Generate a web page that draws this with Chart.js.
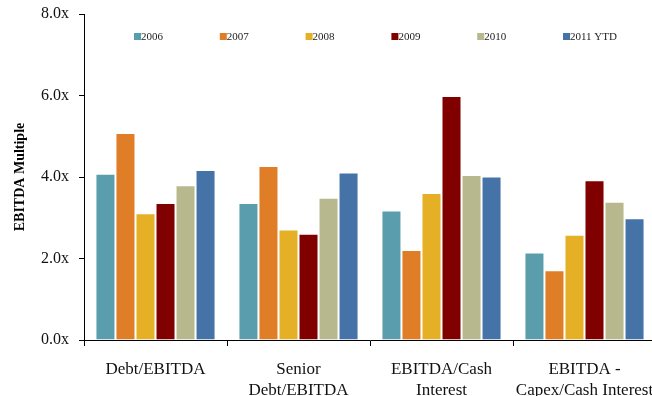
<!DOCTYPE html>
<html>
<head>
<meta charset="utf-8">
<script src="https://cdn.jsdelivr.net/npm/chart.js@4"></script>
<style>
  html, body { margin: 0; padding: 0; background: #fff; overflow: hidden; }
  #wrap { width: 680px; height: 396px; }
</style>
</head>
<body>
<div id="wrap"><canvas id="grafic"></canvas></div>
<script>
const categories = [
  'Debt/EBITDA',
  ['Senior', 'Debt/EBITDA'],
  ['EBITDA/Cash', 'Interest'],
  ['EBITDA -', 'Capex/Cash Interest']
];
const years = ['2006', '2007', '2008', '2009', '2010', '2011 YTD'];
const colors = ['#5A9EAD', '#E07E28', '#E5B025', '#800000', '#B8B88E', '#4673A7'];

const v2006 = [4.08, 3.36, 3.18, 2.15];
const v2007 = [5.08, 4.27, 2.21, 1.71];
const v2008 = [3.11, 2.71, 3.61, 2.58];
const v2009 = [3.36, 2.61, 5.99, 3.92];
const v2010 = [3.80, 3.49, 4.05, 3.39];
const v2011 = [4.17, 4.11, 4.01, 2.99];
const yTicks = [0, 2, 4, 6, 8];

const series = [v2006, v2007, v2008, v2009, v2010, v2011];

const ctx = document.getElementById('grafic');

// legend drawn inside the plot area, one row
const innerLegend = {
  id: 'innerLegend',
  afterDatasetsDraw(chart) {
    const c = chart.ctx;
    const area = chart.chartArea;
    c.save();
    c.font = '11px "Liberation Serif"';
    c.textBaseline = 'middle';
    c.textAlign = 'left';
    years.forEach((y, i) => {
      const x = area.left + 50 + i * 85.8;
      const yy = area.top + 23;
      c.fillStyle = colors[i];
      c.fillRect(x, yy - 4, 7, 7);
      c.fillStyle = '#222';
      c.fillText(y, x + 7, yy);
    });
    c.restore();
  }
};

new Chart(ctx, {
  type: 'bar',
  data: {
    labels: categories,
    datasets: series.map((d, i) => ({
      label: years[i],
      data: d,
      backgroundColor: colors[i],
      borderColor: 'rgba(255,255,255,0.5)',
      borderWidth: 1,
      categoryPercentage: 0.84,
      barPercentage: 1.0
    }))
  },
  options: {
    responsive: true,
    maintainAspectRatio: false,
    animation: false,
    layout: { padding: { top: 14, right: 24, left: 0, bottom: 0 } },
    plugins: {
      legend: { display: false },
      tooltip: { enabled: false }
    },
    scales: {
      x: {
        afterFit: (s) => { s.height = 56; },
        border: { display: true, color: '#000', width: 1 },
        grid: { offset: true, drawOnChartArea: false, drawTicks: true, tickLength: 6, color: '#000' },
        ticks: {
          color: '#111',
          font: { family: 'Liberation Serif', size: 17, lineHeight: 1.25 },
          padding: 13,
          maxRotation: 0,
          autoSkip: false
        }
      },
      y: {
        min: 0,
        max: 8,
        afterFit: (s) => { s.width = 84; s.paddingTop = 0; s.paddingBottom = 0; },
        afterBuildTicks: (s) => { s.ticks = yTicks.map(v => ({ value: v })); },
        border: { display: true, color: '#000', width: 1 },
        grid: { drawOnChartArea: false, drawTicks: true, tickLength: 5, color: '#000' },
        ticks: {
          color: '#111',
          font: { family: 'Liberation Serif', size: 16 },
          padding: 10,
          callback: (v) => v.toFixed(1) + 'x'
        },
        title: {
          display: true,
          text: 'EBITDA Multiple',
          color: '#000',
          font: { family: 'Liberation Serif', size: 14, weight: 'bold' },
          padding: { top: 12, bottom: 0 }
        }
      }
    }
  },
  plugins: [innerLegend]
});
</script>
</body>
</html>
